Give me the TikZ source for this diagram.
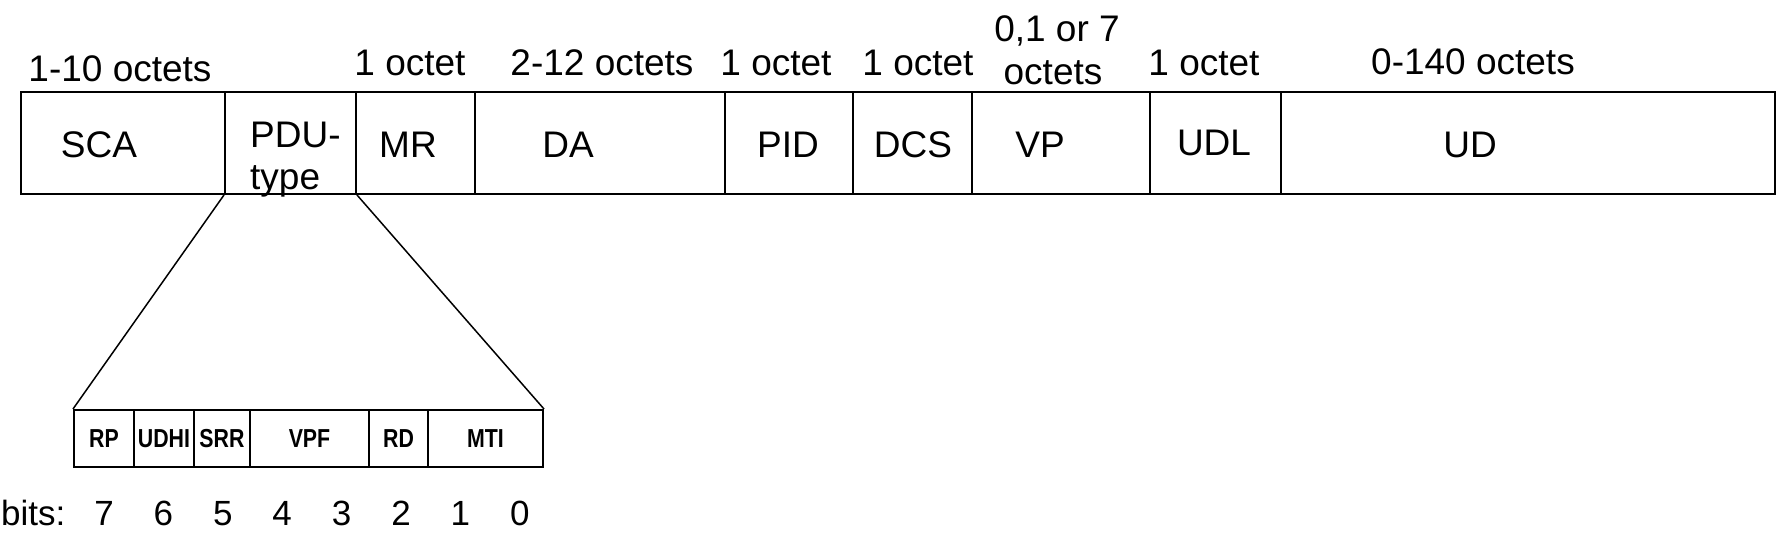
\documentclass[tikz,border=0pt]{standalone}
\usepackage{fontspec}
\setmainfont{Liberation Sans}
\newfontfamily\narrowfont[FakeStretch=0.82]{Liberation Sans}
\newcommand\labfont{\fontsize{37}{42}\selectfont}
\newcommand\bitfont{\fontsize{35}{40}\selectfont}
\newcommand\subfont{\narrowfont\bfseries\fontsize{26}{30}\selectfont}

\begin{document}
\begin{tikzpicture}[x=1pt,y=-1pt,
    field/.style={draw,line width=2pt,inner sep=0pt,minimum height=102pt,anchor=north west},
    subfield/.style={draw,line width=2pt,inner sep=0pt,minimum height=57pt,anchor=north west,font=\subfont},
    txt/.style={inner sep=0pt,anchor=base,font=\labfont}]
  \useasboundingbox (0,0) rectangle (1780,534) ;
  % header fields
  \node[field,minimum width=204pt] (SCA) at (20,91) {} ;
  \node[field,minimum width=131pt] (PDU) at (224,91) {} ;
  \node[field,minimum width=119pt] (MR) at (355,91) {} ;
  \node[field,minimum width=250pt] (DA) at (474,91) {} ;
  \node[field,minimum width=128pt] (PID) at (724,91) {} ;
  \node[field,minimum width=119pt] (DCS) at (852,91) {} ;
  \node[field,minimum width=178pt] (VP) at (971,91) {} ;
  \node[field,minimum width=131pt] (UDL) at (1149,91) {} ;
  \node[field,minimum width=494pt] (UD) at (1280,91) {} ;
  % field names
  \node[txt] (nSCA) at (99,158) {SCA} ;
  \node[txt,anchor=base west] (nPDU) at (250,148) {PDU-} ;
  \node[txt,anchor=base west] (nType) at (250,190) {type} ;
  \node[txt] (nMR) at (408,158) {MR} ;
  \node[txt] (nDA) at (568,158) {DA} ;
  \node[txt] (nPID) at (788,158) {PID} ;
  \node[txt] (nDCS) at (913,158) {DCS} ;
  \node[txt] (nVP) at (1040,158) {VP} ;
  \node[txt] (nUDL) at (1214,156) {UDL} ;
  \node[txt] (nUD) at (1470,158) {UD} ;
  % sizes
  \node[txt] (sSCA) at (120,82) {1-10 octets} ;
  \node[txt] (sMR) at (410,76) {1 octet} ;
  \node[txt] (sDA) at (602,76) {2-12 octets} ;
  \node[txt] (sPID) at (776,76) {1 octet} ;
  \node[txt] (sDCS) at (918,76) {1 octet} ;
  \node[txt] (sVP) at (1057,42) {0,1 or 7} ;
  \node[txt] (sVPb) at (1053,85) {octets} ;
  \node[txt] (sUDL) at (1204,76) {1 octet} ;
  \node[txt] (sUD) at (1473,75) {0-140 octets} ;
  % PDU-type bits
  \node[subfield,minimum width=60pt] (RP) at (73,409) {RP} ;
  \node[subfield,minimum width=60pt] (UDHI) at (133,409) {UDHI} ;
  \node[subfield,minimum width=56pt] (SRR) at (193,409) {SRR} ;
  \node[subfield,minimum width=119pt] (VPF) at (249,409) {VPF} ;
  \node[subfield,minimum width=59pt] (RD) at (368,409) {RD} ;
  \node[subfield,minimum width=115pt] (MTI) at (427,409) {MTI} ;
  \draw[line width=1.5pt] (PDU.south west) -- (RP.north west) ;
  \draw[line width=1.5pt] (PDU.south east) -- (MTI.north east) ;
  \node[txt,font=\bitfont,anchor=base west] (bits) at (1,525) {bits:} ;
  \foreach \b [count=\i from 0] in {7,6,5,4,3,2,1,0}
    \node[txt,font=\bitfont] (bit\b) at (104+59.4*\i,525) {\b} ;
\end{tikzpicture}
\end{document}
